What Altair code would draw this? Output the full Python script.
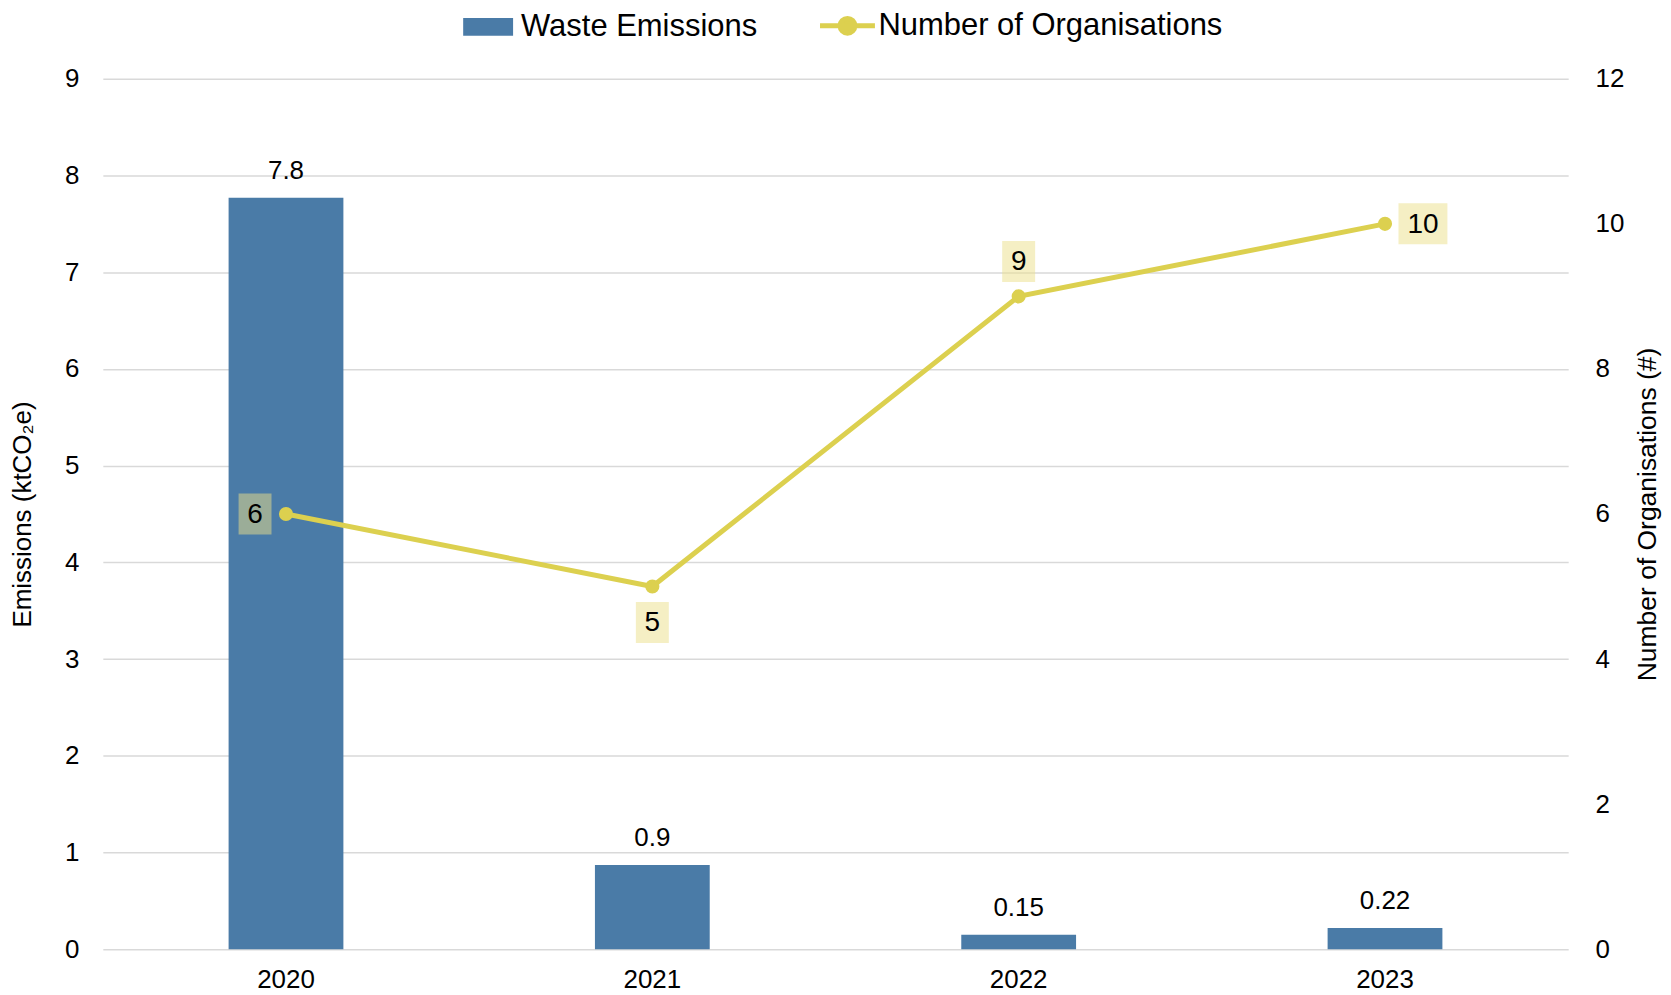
import altair as alt
import pandas as pd

years = ["2020", "2021", "2022", "2023"]
emissions = [7.77, 0.87, 0.15, 0.22]
emission_labels = ["7.8", "0.9", "0.15", "0.22"]
organisations = [6, 5, 9, 10]
org_labels = ["6", "5", "9", "10"]
org_label_side = ["left", "below", "above", "right"]
left_ticks = [0, 1, 2, 3, 4, 5, 6, 7, 8, 9]
right_ticks = [0, 2, 4, 6, 8, 10, 12]

BLUE = "#4a7ba7"
YELLOW = "#dcd04f"
FONT = "Liberation Sans"

df = pd.DataFrame({
    "year": years,
    "emissions": emissions,
    "em_label": emission_labels,
    "orgs": organisations,
    "org_label": org_labels,
    "side": org_label_side,
})

base = alt.Chart(df)
x_enc = alt.X("year:N", sort=years,
              scale=alt.Scale(paddingInner=0, paddingOuter=0),
              axis=alt.Axis(title=None, labelAngle=0, domain=False, ticks=False,
                            labelPadding=17, labelFontSize=26, labelColor="#000000",
                            labelFont=FONT))

y_left = alt.Y("emissions:Q", scale=alt.Scale(domain=[0, 9], nice=False),
               axis=alt.Axis(values=left_ticks, format="d", title="Emissions (ktCO₂e)",
                             grid=True, gridColor="#d9d9d9", gridWidth=1.5,
                             domain=False, ticks=False, labelPadding=24,
                             labelFontSize=26, labelColor="#000000", labelFont=FONT,
                             titleFontSize=26, titleFont=FONT, titleFontWeight="normal",
                             titleColor="#000000", titleAngle=-90, titleX=-80, titleY=436,
                             titleAlign="center", titleBaseline="middle"))

bars = base.transform_calculate(series="'Waste Emissions'").mark_bar(size=115).encode(
    x=x_enc,
    y=y_left,
    color=alt.Color("series:N",
                    scale=alt.Scale(domain=["Waste Emissions"], range=[BLUE]),
                    legend=alt.Legend(title=None, orient="none", legendX=361, legendY=-77,
                                      symbolType="M-1,-0.36L1,-0.36L1,0.36L-1,0.36Z",
                                      symbolSize=2500, symbolStrokeWidth=0,
                                      symbolOpacity=1, labelLimit=0,
                                      labelFontSize=31, labelFont=FONT, labelColor="#000000",
                                      labelOffset=8, padding=0)),
)
bar_text = base.mark_text(fontSize=26, font=FONT, color="#000000", baseline="middle",
                          dy=-27).encode(
    x=alt.X("year:N", sort=years),
    y="emissions:Q",
    text="em_label:N",
)
left = alt.layer(bars, bar_text)

y_right = alt.Y("orgs:Q", scale=alt.Scale(domain=[0, 12], nice=False),
                axis=alt.Axis(values=right_ticks, format="d", orient="right",
                              title="Number of Organisations (#)",
                              grid=False, domain=False, ticks=False, labelPadding=27,
                              labelFontSize=26, labelColor="#000000", labelFont=FONT,
                              titleFontSize=26.5, titleFont=FONT, titleFontWeight="normal",
                              titleColor="#000000", titleAngle=-90, titleX=79, titleY=436,
                              titleAlign="center", titleBaseline="middle"))

line = base.transform_calculate(series="'Number of Organisations'").mark_line(
    strokeWidth=5).encode(
    x=alt.X("year:N", sort=years),
    y=y_right,
    color=alt.Color("series:N",
                    scale=alt.Scale(domain=["Number of Organisations"], range=[YELLOW]),
                    legend=alt.Legend(title=None, orient="none", legendX=716, legendY=-83,
                                      symbolType="M-1,0L1,0M0.27,0A0.27,0.27,0,1,1,-0.27,0A0.27,0.27,0,1,1,0.27,0Z",
                                      symbolSize=3025, symbolStrokeWidth=5,
                                      symbolFillColor=YELLOW, symbolStrokeColor=YELLOW,
                                      labelFontSize=31, labelFont=FONT, labelColor="#000000",
                                      labelOffset=1, padding=0, labelLimit=0)),
)
points = base.mark_point(filled=True, size=200, opacity=1, color=YELLOW).encode(
    x=alt.X("year:N", sort=years),
    y="orgs:Q",
)

offsets = {"left": (-31, 0), "below": (0, 36), "above": (0, -35), "right": (38, 0)}
box_one = "M-0.805,-1L0.805,-1L0.805,1L-0.805,1Z"
box_two = "M-1.195,-1L1.195,-1L1.195,1L-1.195,1Z"

label_layers = []
for side, (ox, oy) in offsets.items():
    sub = base.transform_filter(alt.datum.side == side).transform_calculate(
        nchar="length(datum.org_label) > 1 ? 'two' : 'one'")
    box = sub.mark_point(filled=True, size=1681, xOffset=ox, yOffset=oy,
                         fill="#ebe08a", fillOpacity=0.5, strokeWidth=0).encode(
        x=alt.X("year:N", sort=years),
        y="orgs:Q",
        shape=alt.Shape("nchar:N", scale=alt.Scale(domain=["one", "two"],
                                                   range=[box_one, box_two]),
                        legend=None),
    )
    txt = sub.mark_text(fontSize=28, font=FONT, color="#000000", baseline="middle",
                        align="center", xOffset=ox, yOffset=oy + 1).encode(
        x=alt.X("year:N", sort=years),
        y="orgs:Q",
        text="org_label:N",
    )
    label_layers += [box, txt]

right = alt.layer(line, points, *label_layers)

chart = alt.layer(left, right).resolve_scale(
    y="independent", color="independent", shape="independent"
).properties(
    width=1468, height=872,
    autosize=alt.AutoSizeParams(type="none"),
    padding={"left": 95, "top": 70, "right": 95, "bottom": 45},
).configure(font=FONT, view=alt.ViewConfig(stroke=None, strokeWidth=0))

chart.save("out.html", embed_options={"renderer": "svg", "actions": False})
